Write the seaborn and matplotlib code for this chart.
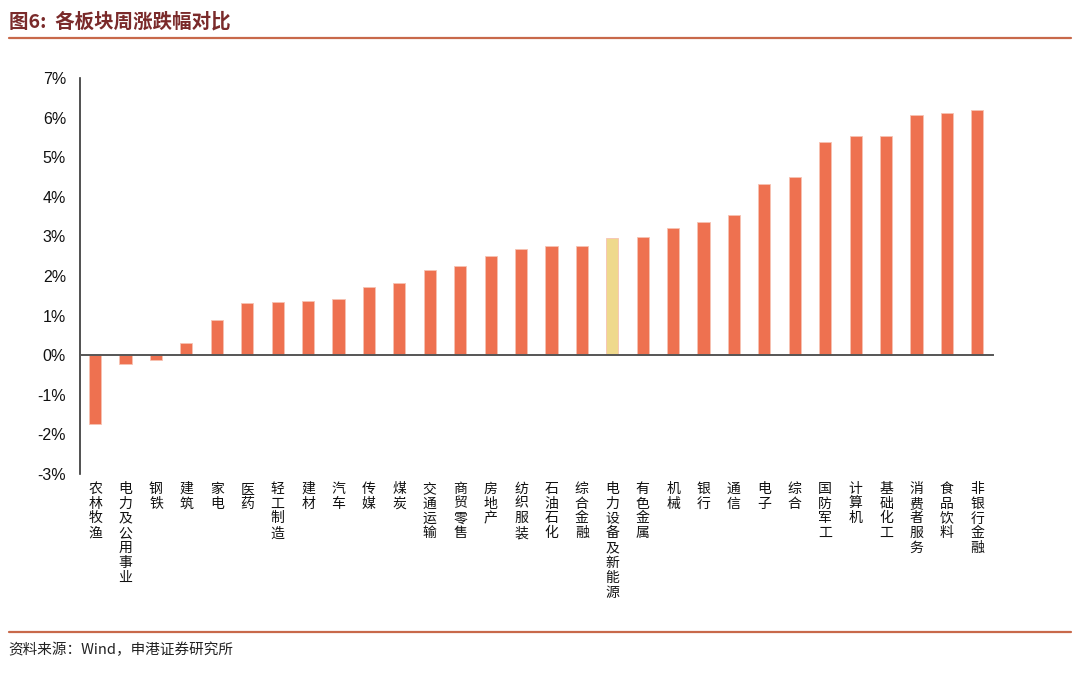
import matplotlib
matplotlib.use("Agg")
import matplotlib.pyplot as plt
import matplotlib.transforms as mtransforms
from matplotlib.lines import Line2D
from matplotlib.ticker import FixedLocator, FuncFormatter
import seaborn as sns
import pandas as pd

# 各板块周涨跌幅 (%)
sectors = ["农林牧渔", "电力及公用事业", "钢铁", "建筑", "家电", "医药", "轻工制造", "建材",
           "汽车", "传媒", "煤炭", "交通运输", "商贸零售", "房地产", "纺织服装", "石油石化",
           "综合金融", "电力设备及新能源", "有色金属", "机械", "银行", "通信", "电子", "综合",
           "国防军工", "计算机", "基础化工", "消费者服务", "食品饮料", "非银行金融"]
weekly_change = [-1.74, -0.23, -0.12, 0.30, 0.88, 1.31, 1.34, 1.36, 1.41, 1.72, 1.82, 2.14,
                 2.24, 2.50, 2.68, 2.75, 2.75, 2.96, 2.98, 3.22, 3.36, 3.54, 4.33, 4.50,
                 5.38, 5.53, 5.53, 6.06, 6.11, 6.19]
highlight = "电力设备及新能源"

BAR = "#EE7150"
HL = "#EFD98C"

sns.set_style("white")
plt.rcParams["font.family"] = ["Liberation Sans", "Noto Sans CJK SC"]

df = pd.DataFrame({"sector": sectors, "chg": weekly_change})
palette = {s: (HL if s == highlight else BAR) for s in sectors}

fig = plt.figure(figsize=(10.8, 6.73), dpi=100)
ax = fig.add_axes([0.074, 0.296, 0.845, 0.588])

sns.barplot(data=df, x="sector", y="chg", hue="sector", palette=palette,
            legend=False, width=0.4, ax=ax, saturation=1,
            edgecolor="#F7C2B2", linewidth=0.6)

ax.set_xlim(-0.5, len(sectors) - 0.5)
ax.set_ylim(-3, 7)
ax.set_yticks(range(-3, 8))
ax.yaxis.set_major_formatter(FuncFormatter(lambda v, p: f"{v:.0f}%"))
ax.tick_params(axis="y", direction="out", length=4, width=1, color="#333333",
               labelsize=11.5, labelcolor="#111111", pad=6)
ax.set_xlabel("")
ax.set_ylabel("")

for s in ["top", "right"]:
    ax.spines[s].set_visible(False)
ax.spines["left"].set_color("#333333")
ax.spines["left"].set_linewidth(1.2)
ax.spines["bottom"].set_position(("data", 0))
ax.spines["bottom"].set_color("#555555")
ax.spines["bottom"].set_linewidth(1.4)

ax.xaxis.set_major_locator(FixedLocator(range(len(sectors))))
ax.tick_params(axis="x", which="major", length=0, labelbottom=False)
ax.xaxis.set_minor_locator(FixedLocator([i + 0.5 for i in range(-1, len(sectors))]))
ax.tick_params(axis="x", which="minor", direction="in", length=4, width=1, color="#333333")

# vertical category labels under the plot
trans = mtransforms.blended_transform_factory(ax.transData, ax.transAxes)
for i, s in enumerate(sectors):
    ax.text(i, -0.02, "\n".join(s), transform=trans, ha="center", va="top",
            fontsize=10, linespacing=1.08, color="#111111",
            family=["Noto Sans CJK SC", "DejaVu Sans"])

# header and footer
fig.text(0.008, 0.968, "图6:  各板块周涨跌幅对比", ha="left", va="center", fontsize=14,
         fontweight="bold", color="#7A2A2A", family=["Noto Sans CJK SC", "DejaVu Sans"])
fig.add_artist(Line2D([0.008, 0.992], [0.944, 0.944], transform=fig.transFigure,
                      color="#C8694A", lw=1.6))
fig.add_artist(Line2D([0.008, 0.992], [0.061, 0.061], transform=fig.transFigure,
                      color="#C8694A", lw=1.6))
fig.text(0.008, 0.034, "资料来源：Wind，申港证券研究所", ha="left", va="center", fontsize=10.5,
         color="#222222", style="italic", family=["Noto Sans CJK SC", "DejaVu Sans"])

fig.savefig("out.png", dpi=100)
